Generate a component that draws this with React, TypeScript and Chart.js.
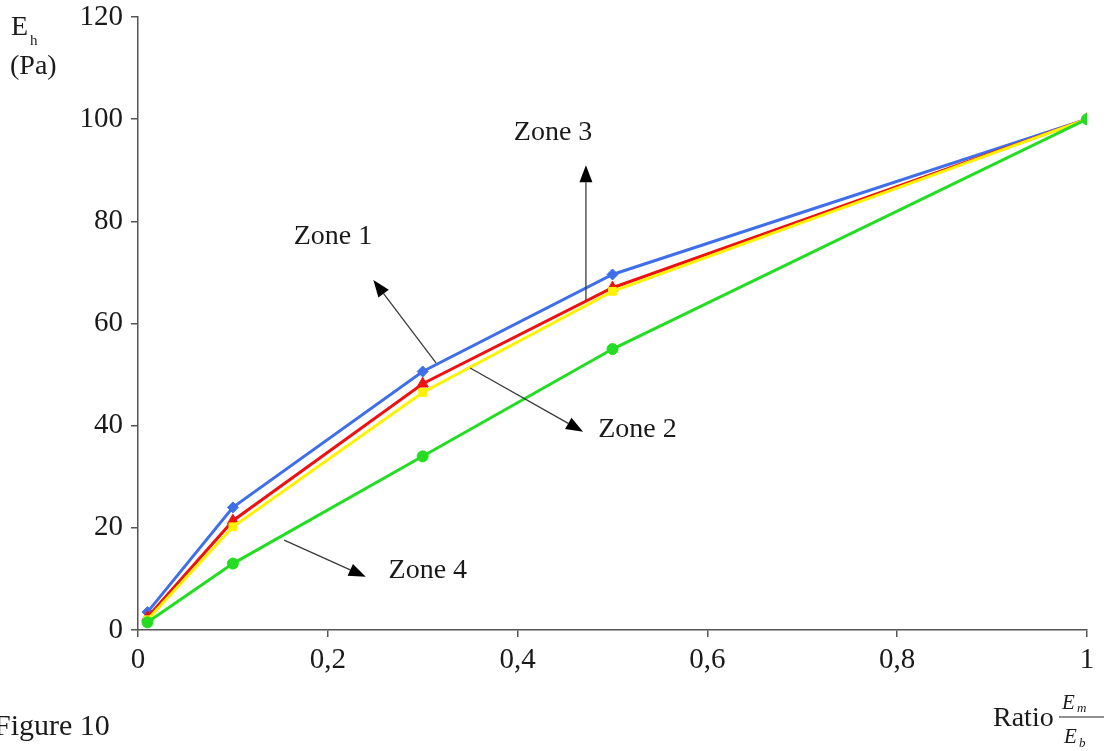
import React, { useEffect, useRef } from "react";
import { Chart, registerables } from "chart.js";

Chart.register(...registerables);

// ---- data ----
const ratioValues = [0.01, 0.1, 0.3, 0.5, 1];
const zone1Values = [3.5, 24, 50.6, 69.6, 100]; // blue, diamonds
const zone2Values = [2, 20.2, 46.5, 66.3, 100]; // yellow, squares
const zone3Values = [2.5, 21.4, 48.2, 67, 100]; // red, triangles
const zone4Values = [1.5, 13, 34, 55, 100]; // green, circles
const xTickLabels = ["0", "0,2", "0,4", "0,6", "0,8", "1"];

// annotation labels and arrows, in data coordinates
const zoneLabels = ["Zone 1", "Zone 2", "Zone 3", "Zone 4"];
const labelX = [0.164, 0.485, 0.396, 0.264];
const labelY = [77, 39.2, 97.3, 11.7];
const arrowFromX = [0.314, 0.35, 0.472, 0.154];
const arrowFromY = [52.3, 51.3, 64.6, 17.6];
const arrowToX = [0.248, 0.469, 0.472, 0.24];
const arrowToY = [68.5, 38.8, 91, 10.4];

const SERIF = "'Liberation Serif', 'DejaVu Serif', serif";
const TEXT = "#1a1a1a";

const overlayPlugin = {
  id: "overlay",
  afterDraw(chart: any) {
    const ctx = chart.ctx as CanvasRenderingContext2D;
    const xs = chart.scales.x;
    const ys = chart.scales.y;
    ctx.save();
    // arrows
    for (let i = 0; i < zoneLabels.length; i++) {
      const x1 = xs.getPixelForValue(arrowFromX[i]);
      const y1 = ys.getPixelForValue(arrowFromY[i]);
      const x2 = xs.getPixelForValue(arrowToX[i]);
      const y2 = ys.getPixelForValue(arrowToY[i]);
      const ang = Math.atan2(y2 - y1, x2 - x1);
      const hl = 17;
      const hw = 6.5;
      const bx = x2 - hl * Math.cos(ang);
      const by = y2 - hl * Math.sin(ang);
      ctx.strokeStyle = "#3a3a3a";
      ctx.lineWidth = 1.3;
      ctx.beginPath();
      ctx.moveTo(x1, y1);
      ctx.lineTo(bx, by);
      ctx.stroke();
      ctx.fillStyle = "#000";
      ctx.beginPath();
      ctx.moveTo(x2, y2);
      ctx.lineTo(bx + hw * Math.sin(ang), by - hw * Math.cos(ang));
      ctx.lineTo(bx - hw * Math.sin(ang), by + hw * Math.cos(ang));
      ctx.closePath();
      ctx.fill();
      // label
      ctx.font = `28px ${SERIF}`;
      ctx.fillStyle = TEXT;
      ctx.textAlign = "left";
      ctx.textBaseline = "middle";
      ctx.fillText(zoneLabels[i], xs.getPixelForValue(labelX[i]), ys.getPixelForValue(labelY[i]));
    }
    // y axis title
    ctx.fillStyle = TEXT;
    ctx.textAlign = "left";
    ctx.textBaseline = "alphabetic";
    ctx.font = `28px ${SERIF}`;
    ctx.fillText("E", 11, 35);
    ctx.font = `15px ${SERIF}`;
    ctx.fillText("h", 30, 45);
    ctx.font = `28px ${SERIF}`;
    ctx.fillText("(Pa)", 10, 74);
    // x axis title
    ctx.fillText("Ratio", 993, 726);
    ctx.font = `italic 21px ${SERIF}`;
    ctx.fillText("E", 1062, 709);
    ctx.font = `italic 13px ${SERIF}`;
    ctx.fillText("m", 1077, 712);
    ctx.font = `italic 21px ${SERIF}`;
    ctx.fillText("E", 1064, 743);
    ctx.font = `italic 13px ${SERIF}`;
    ctx.fillText("b", 1079, 747);
    ctx.strokeStyle = "#222";
    ctx.lineWidth = 1.2;
    ctx.beginPath();
    ctx.moveTo(1059, 717);
    ctx.lineTo(1104, 717);
    ctx.stroke();
    // figure caption
    ctx.font = `30px ${SERIF}`;
    ctx.fillStyle = TEXT;
    ctx.fillText("Figure 10", -6, 735);
    ctx.restore();
  },
};

function series(label: string, values: number[], color: string, style: string, radius: number) {
  return {
    label,
    data: ratioValues.map((x, i) => ({ x, y: values[i] })),
    borderColor: color,
    backgroundColor: color,
    borderWidth: 3,
    pointStyle: style,
    pointRadius: radius,
    pointBorderWidth: 1,
    pointBorderColor: color,
    tension: 0,
  };
}

export default function App() {
  const ref = useRef<HTMLCanvasElement | null>(null);
  useEffect(() => {
    document.body.style.margin = "0";
    const canvas = ref.current!;
    const chart = new Chart(canvas, {
      type: "line",
      data: {
        datasets: [
          series("Zone 4", zone4Values, "#22dd22", "circle", 5.5),
          series("Zone 2", zone2Values, "#fff200", "rect", 5.5),
          series("Zone 3", zone3Values, "#ee1111", "triangle", 6.5),
          series("Zone 1", zone1Values, "#3f6fe8", "rectRot", 5.5),
        ] as any,
      },
      options: {
        animation: false,
        responsive: false,
        maintainAspectRatio: false,
        layout: { padding: { left: 0, right: 24, top: 17, bottom: 0 } },
        plugins: { legend: { display: false }, tooltip: { enabled: false } },
        scales: {
          x: {
            type: "linear",
            min: 0,
            max: 1,
            ticks: {
              stepSize: 0.2,
              color: TEXT,
              font: { family: SERIF, size: 29 },
              padding: 6,
              maxRotation: 0,
              callback: (_v: any, i: number) => xTickLabels[i],
            },
            grid: { display: true, drawOnChartArea: false, drawTicks: true, tickLength: 7, color: "#555", lineWidth: 1.5 },
            border: { display: true, color: "#555", width: 1.5 },
            afterFit: (s: any) => {
              s.height = 121;
              s.paddingLeft = 0;
              s.paddingRight = 0;
            },
          },
          y: {
            min: 0,
            max: 120,
            ticks: {
              stepSize: 20,
              color: TEXT,
              font: { family: SERIF, size: 29 },
              padding: 8,
            },
            grid: { display: true, drawOnChartArea: false, drawTicks: true, tickLength: 7, color: "#555", lineWidth: 1.5 },
            border: { display: true, color: "#555", width: 1.5 },
            afterFit: (s: any) => {
              s.width = 138;
              s.paddingTop = 0;
              s.paddingBottom = 0;
            },
          },
        },
      },
      plugins: [overlayPlugin],
    });
    return () => chart.destroy();
  }, []);
  return (
    <div style={{ position: "fixed", left: 0, top: 0, width: 1111, height: 751, background: "#fff" }}>
      <canvas ref={ref} width={1111} height={751} style={{ width: 1111, height: 751 }} />
    </div>
  );
}
